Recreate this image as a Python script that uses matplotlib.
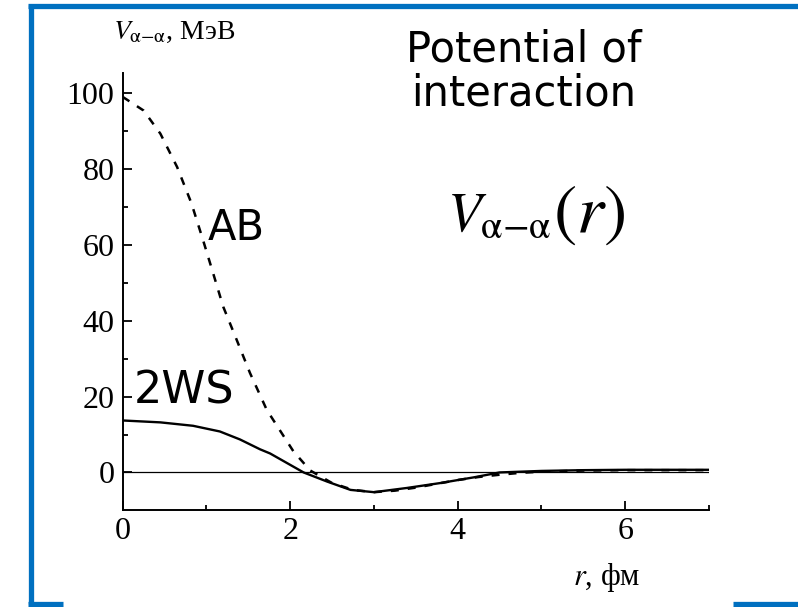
import matplotlib
matplotlib.use("Agg")
import matplotlib.pyplot as plt
from matplotlib.lines import Line2D

plt.rcParams["font.family"] = ["Liberation Serif", "DejaVu Serif"]
plt.rcParams["mathtext.fontset"] = "stix"

# AB potential (dashed)
r_ab = [0.0, 0.25, 0.45, 0.65, 0.82, 0.96, 1.08, 1.2, 1.36, 1.52, 1.72, 1.88, 2.04,
        2.24, 2.5, 2.75, 3.0, 3.25, 3.5, 3.75, 4.0, 4.25, 4.5, 4.75, 5.0, 5.5, 6.0, 6.5, 7.0]
v_ab = [99.0, 95.4, 89.3, 80.5, 71.0, 61.2, 52.5, 43.7, 35.0, 26.2, 16.5, 11.0, 5.5,
        0.5, -2.8, -4.6, -5.2, -4.8, -4.0, -3.0, -2.0, -1.2, -0.6, -0.1, 0.2, 0.5, 0.6, 0.6, 0.6]

# 2WS potential (solid)
r_ws = [0.0, 0.45, 0.84, 1.16, 1.4, 1.64, 1.76, 2.0, 2.16, 2.44, 2.72, 3.0, 3.39,
        3.79, 4.19, 4.5, 5.0, 5.5, 6.0, 7.0]
v_ws = [13.7, 13.2, 12.3, 10.8, 8.7, 6.1, 5.0, 2.0, 0.0, -2.4, -4.6, -5.2, -4.1,
        -2.8, -1.3, 0.0, 0.4, 0.6, 0.7, 0.7]

x_ticks = [0, 2, 4, 6]
y_ticks = [0, 20, 40, 60, 80, 100]

W, H = 798, 607
fig = plt.figure(figsize=(W / 100, H / 100), dpi=100)
ax = fig.add_axes([122.7 / W, 1 - 510 / H, (709 - 122.7) / W, (510 - 73) / H])

ax.axhline(0, color="black", lw=0.9)
ax.plot(r_ws, v_ws, color="black", lw=1.7)
ax.plot(r_ab, v_ab, color="black", lw=1.8, ls=(0, (3.2, 3.6)))

ax.set_xlim(0, 7)
ax.set_ylim(-9.9, 105.3)
ax.set_xticks(x_ticks)
ax.set_yticks(y_ticks)
ax.set_xticks([1, 3, 5, 7], minor=True)
ax.set_yticks([10, 30, 50, 70, 90], minor=True)
for s in ["top", "right"]:
    ax.spines[s].set_visible(False)
for s in ["left", "bottom"]:
    ax.spines[s].set_linewidth(1.4)
ax.tick_params(which="both", direction="in", width=1.3, labelsize=23)
ax.tick_params(which="major", length=6.5)
ax.tick_params(which="minor", length=3.6)
ax.tick_params(axis="y", pad=6)
ax.tick_params(axis="x", pad=5)

# axis titles
fig.text(113 / W, 1 - 32 / H, r"$V_{\mathrm{\alpha}\mathrm{-}\mathrm{\alpha}}$, МэВ",
         fontsize=20, ha="left", va="center")
fig.text(607 / W, 1 - 577 / H, r"$r$, фм", fontsize=22, ha="center", va="center")

# annotations
hand = ["DejaVu Sans"]
fig.text(524 / W, 1 - 50 / H, "Potential of", fontsize=30, family=hand,
         ha="center", va="center")
fig.text(524 / W, 1 - 94 / H, "interaction", fontsize=30, family=hand,
         ha="center", va="center")
fig.text(236 / W, 1 - 228 / H, "AB", fontsize=30, family=hand, ha="center", va="center")
fig.text(184 / W, 1 - 391 / H, "2WS", fontsize=32, family=hand, ha="center", va="center")

# big formula V_{α−α}(r)
fig.text(447 / W, 1 - 230 / H, r"$V_{\mathrm{\alpha{-}\alpha}}$", fontsize=40,
         ha="left", va="baseline")
fig.text(553 / W, 1 - 233 / H, r"$(r)$", fontsize=50, ha="left", va="baseline")

# blue frame
blue = "#0070C0"
frame = [
    ([30.5, 30.5], [5, 604]),
    ([28, 798], [5.5, 5.5]),
    ([28, 63], [603.5, 603.5]),
    ([733, 798], [603.5, 603.5]),
]
for xs, ys in frame:
    fig.add_artist(Line2D([x / W for x in xs], [1 - y / H for y in ys],
                          color=blue, lw=3.8, solid_capstyle="butt"))

fig.savefig("out.png", dpi=100)
